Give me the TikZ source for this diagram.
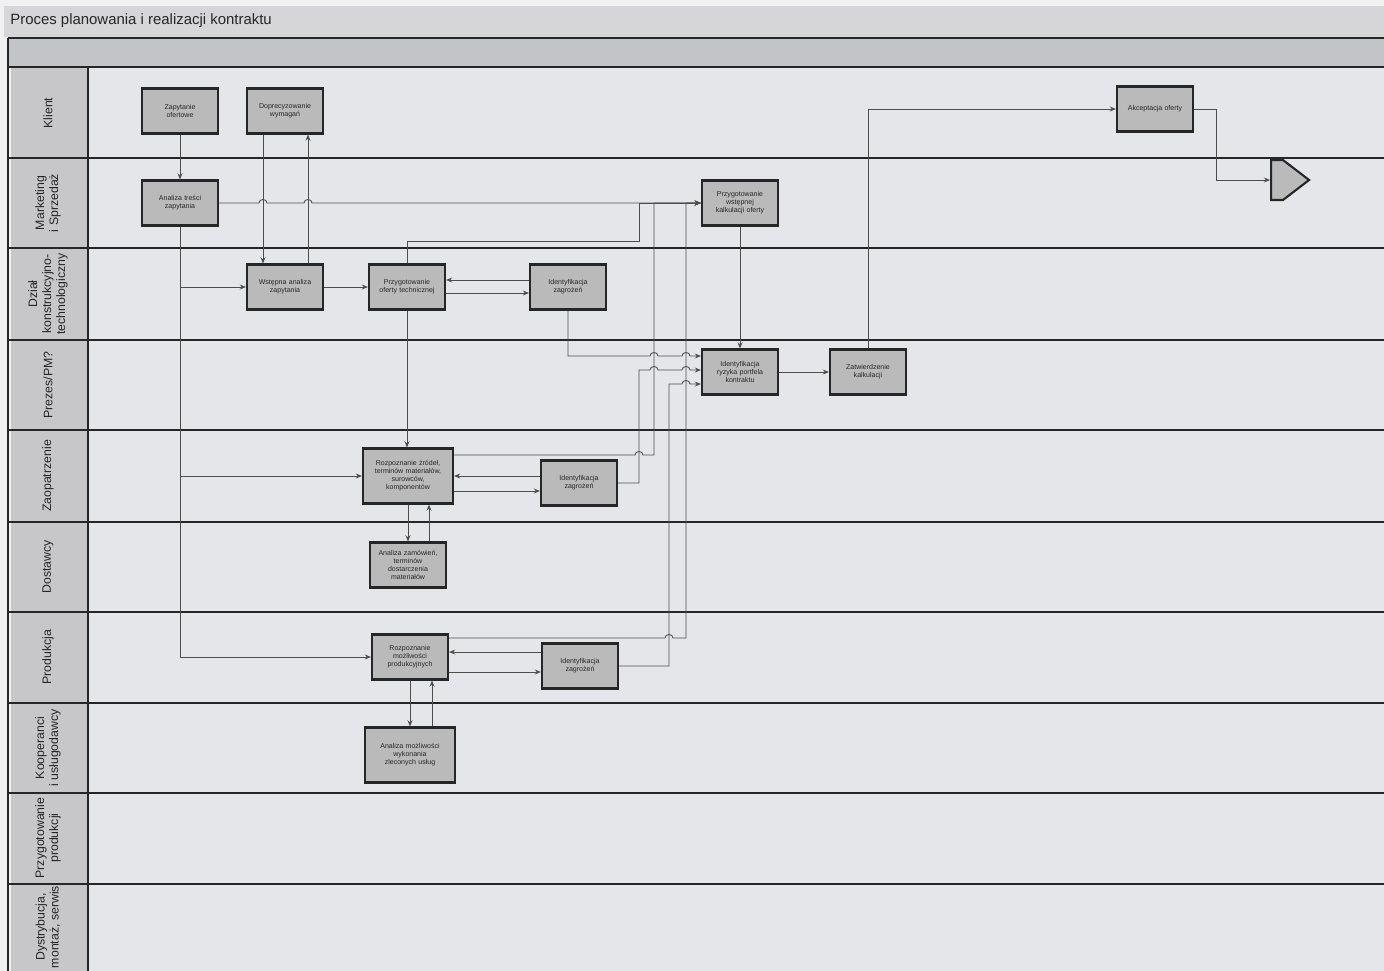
\documentclass[tikz,border=0pt]{standalone}
\usepackage{fontspec}
\setmainfont{Liberation Sans}
\usetikzlibrary{positioning,arrows.meta,calc,shapes.symbols,shadows}
\definecolor{paper}{HTML}{F1F1F1}
\definecolor{titlegray}{HTML}{D6D6D8}
\definecolor{bandgray}{HTML}{C3C4C8}
\definecolor{lanebg}{HTML}{E5E6EA}
\definecolor{cellgray}{HTML}{C7C7C9}
\definecolor{boxgray}{HTML}{BABABA}
\definecolor{inkdark}{HTML}{262626}
\definecolor{flowgray}{HTML}{4D4D4D}

\tikzset{
  task/.style={draw=inkdark, line width=1.2pt, fill=boxgray, minimum width=1.52cm, minimum height=0.9cm,
    text width=1.4cm, align=center, inner sep=1pt, font=\fontsize{4}{4.6}\selectfont, text=inkdark,
    drop shadow={shadow xshift=0.6pt, shadow yshift=-0.6pt, opacity=0.25}},
  bigtask/.style={task, minimum width=1.8cm, minimum height=1.1cm, text width=1.7cm},
  endsig/.style={signal, signal to=east, signal pointer angle=75, draw=inkdark, line width=1.2pt,
    fill=boxgray, minimum width=0.76cm, minimum height=0.8cm, inner sep=0pt},
  lanetxt/.style={rotate=90, align=center, font=\fontsize{7}{8}\selectfont, text=inkdark},
  lanesep/.style={inkdark, line width=1pt},
  flow/.style={flowgray, line width=0.5pt, -{Stealth[length=3.5pt,width=2.8pt]}},
  hop/.style={out=90, in=90, looseness=1.5}
}

\begin{document}
\begin{tikzpicture}[x=0.02cm, y=-0.02cm]
  \useasboundingbox (0,0) rectangle (1384,971);
  % background of the pool
  \fill[paper] (0,0) rectangle (1384,971);
  \fill[titlegray] (4,6) rectangle (1384,37);
  \fill[bandgray] (8,38) rectangle (1384,67);
  \fill[lanebg] (88,67) rectangle (1384,971);
  \fill[cellgray] (11,68) rectangle (87,971);
  \node[anchor=west, inner sep=0pt, font=\fontsize{8.5}{10}\selectfont, text=inkdark] (title) at (10,21) {Proces planowania i realizacji kontraktu};

  \draw[lanesep] (8,38) -- (1384,38);
  \draw[lanesep] (8,67) -- (1384,67);
  \draw[lanesep] (8,158) -- (1384,158);
  \draw[lanesep] (8,248) -- (1384,248);
  \draw[lanesep] (8,340) -- (1384,340);
  \draw[lanesep] (8,430) -- (1384,430);
  \draw[lanesep] (8,522) -- (1384,522);
  \draw[lanesep] (8,612) -- (1384,612);
  \draw[lanesep] (8,703) -- (1384,703);
  \draw[lanesep] (8,793) -- (1384,793);
  \draw[lanesep] (8,884) -- (1384,884);
  \draw[lanesep] (8,38) -- (8,971);
  \draw[lanesep] (88,67) -- (88,971);

  % lane labels
  \node[lanetxt] (kl) at (48,113) {Klient};
  \node[lanetxt] (mk) at (48,203) {Marketing\\i Sprzedaż};
  \node[lanetxt] (dk) at (48,294) {Dział\\konstrukcyjno-\\technologiczny};
  \node[lanetxt] (pr) at (48,385) {Prezes/PM?};
  \node[lanetxt] (za) at (48,476) {Zaopatrzenie};
  \node[lanetxt] (ds) at (48,567) {Dostawcy};
  \node[lanetxt] (pd) at (48,657) {Produkcja};
  \node[lanetxt] (ko) at (48,748) {Kooperanci\\i usługodawcy};
  \node[lanetxt] (pp) at (48,838) {Przygotowanie\\produkcji};
  \node[lanetxt] (dy) at (48,927) {Dystrybucja,\\montaż, serwis};

  % tasks
  \node[task] (zap) at (180,111) {Zapytanie\\ofertowe};
  \node[task] (dop) at (285,111) {Doprecyzowanie\\wymagań};
  \node[task] (akc) at (1155,109) {Akceptacja oferty};
  \node[task] (ana) at (180,203) {Analiza treści\\zapytania};
  \node[task] (kal) at (740,203) {Przygotowanie\\wstępnej\\kalkulacji oferty};
  \node[task] (wst) at (285,287) {Wstępna analiza\\zapytania};
  \node[task] (oft) at (407,287) {Przygotowanie\\oferty technicznej};
  \node[task] (izd) at (568,287) {Identyfikacja\\zagrożeń};
  \node[task] (iry) at (740,372) {Identyfikacja\\ryzyka portfela\\kontraktu};
  \node[task] (zat) at (868,372) {Zatwierdzenie\\kalkulacji};
  \node[bigtask] (roz) at (408,476) {Rozpoznanie źródeł,\\terminów materiałów,\\surowców,\\komponentów};
  \node[task] (izz) at (579,483) {Identyfikacja\\zagrożeń};
  \node[task] (adz) at (408,565) {Analiza zamówień,\\terminów\\dostarczenia\\materiałów};
  \node[task] (rmp) at (410,657) {Rozpoznanie\\możliwości\\produkcyjnych};
  \node[task] (izp) at (580,666) {Identyfikacja\\zagrożeń};
  \node[bigtask] (amw) at (410,755) {Analiza możliwości\\wykonania\\zleconych usług};
  \node[endsig, anchor=west] (fin) at (1270,180) {};

  % flows
  \draw[flow] (zap) -- (ana);
  \draw[flow] ($(dop.south)+(-22,0)$) -- ($(wst.north)+(-22,0)$);
  \draw[flow] ($(wst.north)+(23,0)$) -- ($(dop.south)+(23,0)$);
  \draw[flow] (ana.east) -- (259,203) to[hop] (267,203) -- (304,203) to[hop] (312,203) -- (kal.west);
  \draw[flow] (ana.south) |- (rmp.west);
  \draw[flow] (ana.south |- wst.west) -- (wst.west);
  \draw[flow] (ana.south |- roz.west) -- (roz.west);
  \draw[flow] (wst) -- (oft);
  \draw[flow] ($(izd.west)+(0,-7)$) -- ($(oft.east)+(0,-7)$);
  \draw[flow] ($(oft.east)+(0,6)$) -- ($(izd.west)+(0,6)$);
  \draw[flow] (oft.north) |- (639,241) -- (639,203) -- (kal.west);
  \draw[flow] (oft.south) -- (oft.south |- roz.north);
  \draw[flow] ($(izz.west)+(0,-7)$) -- (roz.east);
  \draw[flow] ($(roz.east)+(0,15)$) -- ($(izz.west)+(0,8)$);
  \draw[flow] (roz.south) -- (adz.north);
  \draw[flow] ($(adz.north)+(21,0)$) -- ($(roz.south)+(21,0)$);
  \draw[flow] ($(izp.west)+(0,-14)$) -- ($(rmp.east)+(0,-5)$);
  \draw[flow] ($(rmp.east)+(0,15)$) -- ($(izp.west)+(0,6)$);
  \draw[flow] (rmp.south) -- (amw.north);
  \draw[flow] ($(amw.north)+(22,0)$) -- ($(rmp.south)+(22,0)$);
  \draw[flow] ($(roz.east)+(0,-21)$) -- (635,455) to[hop] (643,455) -- (654,455) -- (654,203) -- (kal.west);
  \draw[flow] ($(rmp.east)+(0,-19)$) -- (665,638) to[hop] (673,638) -- (686,638) -- (686,203) -- (kal.west);
  \draw[flow] (izd.south) |- (650,356) to[hop] (658,356) -- (682,356) to[hop] (690,356) -- ($(iry.west)+(0,-16)$);
  \draw[flow] (izz.east) -| (639,370) -- (650,370) to[hop] (658,370) -- (682,370) to[hop] (690,370) -- ($(iry.west)+(0,-2)$);
  \draw[flow] (izp.east) -| (669,384) -- (682,384) to[hop] (690,384) -- ($(iry.west)+(0,12)$);
  \draw[flow] (kal) -- (iry);
  \draw[flow] (iry) -- (zat);
  \draw[flow] (zat.north) |- (akc.west);
  \draw[flow] (akc.east) -- ++(22,0) |- (fin.west);
\end{tikzpicture}
\end{document}
